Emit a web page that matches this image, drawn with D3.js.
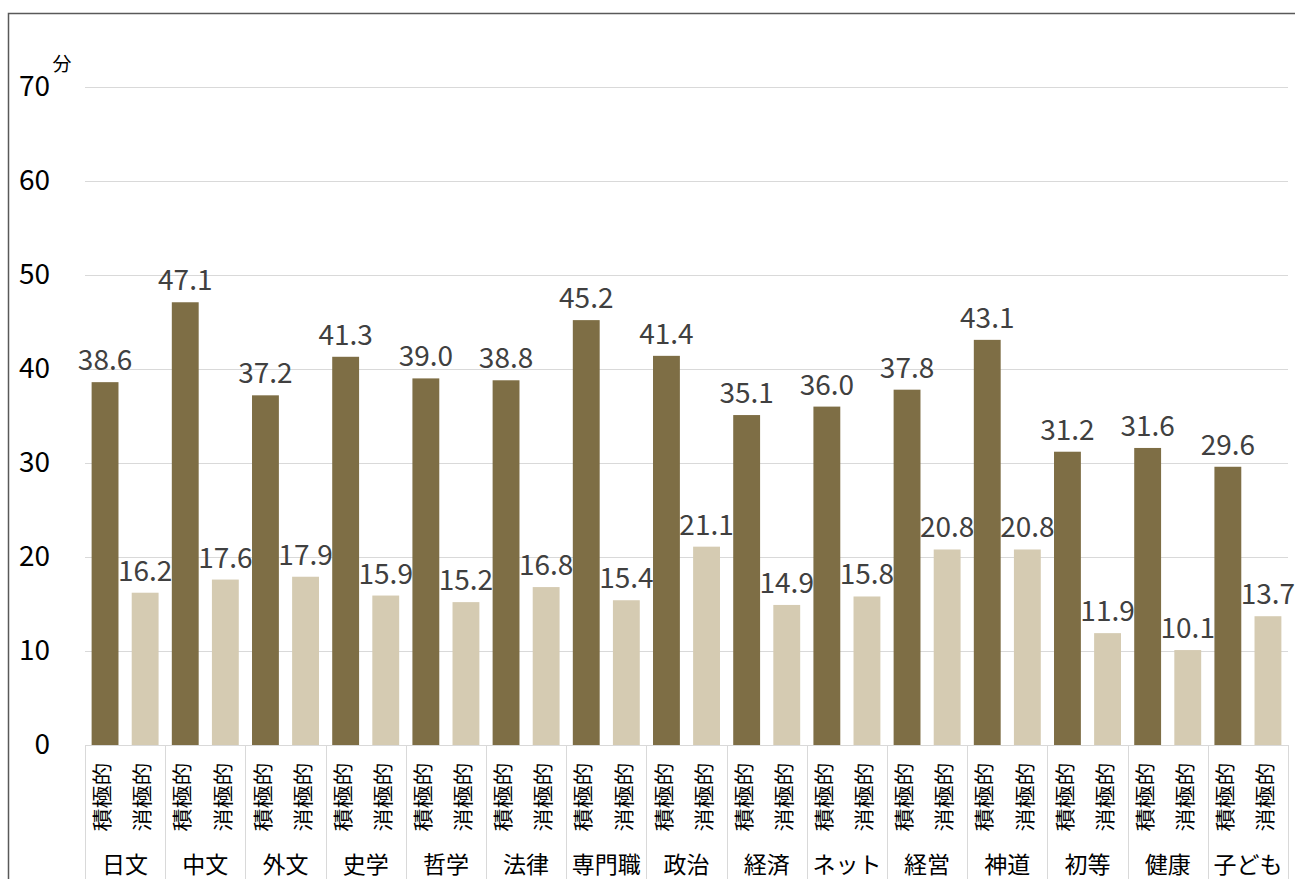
<!DOCTYPE html>
<html>
<head>
<meta charset="utf-8">
<script src="https://cdn.jsdelivr.net/npm/d3@7"></script>
<style>
  html, body { margin: 0; padding: 0; background: #fff; }
  svg { display: block; }
  text { font-family: "Noto Sans CJK JP", "Noto Sans", sans-serif; }
</style>
</head>
<body>
<script>
// Fields of study (outer category level)
const groups = ["日文", "中文", "外文", "史学", "哲学", "法律", "専門職", "政治", "経済", "ネット", "経営", "神道", "初等", "健康", "子ども"];
// Attitude (inner category level)
const attitudes = ["積極的", "消極的"];
// Minutes per attitude, one value per field
const activeValues = [38.6, 47.1, 37.2, 41.3, 39.0, 38.8, 45.2, 41.4, 35.1, 36.0, 37.8, 43.1, 31.2, 31.6, 29.6];
const passiveValues = [16.2, 17.6, 17.9, 15.9, 15.2, 16.8, 15.4, 21.1, 14.9, 15.8, 20.8, 20.8, 11.9, 10.1, 13.7];
// Value axis ticks and unit
const yTicks = [0, 10, 20, 30, 40, 50, 60, 70];
const unitLabel = "分";

const W = 1295, H = 879;
const plot = { left: 85, right: 1288, top: 87, bottom: 745 };
const colors = { "積極的": "#7e6e45", "消極的": "#d5cbb2" };

const rows = groups.map((g, i) => ({
  group: g,
  items: [
    { attitude: attitudes[0], value: activeValues[i] },
    { attitude: attitudes[1], value: passiveValues[i] }
  ]
}));

const svg = d3.select("body").append("svg").attr("width", W).attr("height", H);

// Chart frame
svg.append("rect")
  .attr("x", 8.5).attr("y", 13.5)
  .attr("width", W + 20).attr("height", H + 20)
  .attr("fill", "none").attr("stroke", "#595959").attr("stroke-width", 1.5);

const x0 = d3.scaleBand().domain(groups).range([plot.left, plot.right]).padding(0);
const x1 = d3.scaleBand().domain(attitudes).range([0, x0.bandwidth()])
  .paddingInner(0.33).paddingOuter(0.165);
const y = d3.scaleLinear().domain([0, 70]).range([plot.bottom, plot.top]);

// Horizontal gridlines
svg.append("g").selectAll("line").data(yTicks.filter(t => t > 0)).join("line")
  .attr("x1", plot.left).attr("x2", plot.right)
  .attr("y1", d => Math.round(y(d)) + 0.5).attr("y2", d => Math.round(y(d)) + 0.5)
  .attr("stroke", "#d9d9d9").attr("stroke-width", 1);

// Y axis tick labels
const yAxis = d3.axisLeft(y).tickValues(yTicks).tickSize(0).tickPadding(0).tickFormat(d3.format("d"));
const yg = svg.append("g").attr("transform", `translate(${plot.left - 35},0)`).call(yAxis);
yg.select(".domain").remove();
yg.selectAll("text")
  .attr("font-size", 28).attr("fill", "#000")
  .attr("font-family", "'Noto Sans CJK JP', sans-serif");

// Unit label
svg.append("text")
  .attr("x", 62).attr("y", 71)
  .attr("text-anchor", "middle")
  .attr("font-size", 19).attr("fill", "#000")
  .text(unitLabel);

// Bars
const gBars = svg.append("g").selectAll("g").data(rows).join("g")
  .attr("transform", d => `translate(${x0(d.group)},0)`);

gBars.selectAll("rect").data(d => d.items).join("rect")
  .attr("x", d => x1(d.attitude))
  .attr("width", x1.bandwidth())
  .attr("y", d => y(d.value))
  .attr("height", d => y(0) - y(d.value))
  .attr("fill", d => colors[d.attitude]);

// Data labels
gBars.selectAll("text.val").data(d => d.items).join("text")
  .attr("class", "val")
  .attr("x", d => x1(d.attitude) + x1.bandwidth() / 2)
  .attr("y", d => y(d.value) - 12)
  .attr("text-anchor", "middle")
  .attr("font-size", 28).attr("fill", "#404040")
  .text(d => d.value.toFixed(1));

// Category axis baseline
svg.append("line")
  .attr("x1", plot.left).attr("x2", plot.right)
  .attr("y1", plot.bottom + 0.5).attr("y2", plot.bottom + 0.5)
  .attr("stroke", "#d9d9d9");

// Group dividers
const bounds = groups.map(g => x0(g)).concat([plot.right]);
svg.append("g").selectAll("line").data(bounds).join("line")
  .attr("x1", d => Math.round(d) + 0.5).attr("x2", d => Math.round(d) + 0.5)
  .attr("y1", plot.bottom).attr("y2", H)
  .attr("stroke", "#d9d9d9");

// Inner category labels (rotated)
gBars.selectAll("text.sub").data(d => d.items).join("text")
  .attr("class", "sub")
  .attr("transform", d => `translate(${x1(d.attitude) + x1.bandwidth() / 2 - 2},797) rotate(-90)`)
  .attr("text-anchor", "middle")
  .attr("dy", "0.36em")
  .attr("font-size", 20).attr("fill", "#000")
  .attr("textLength", 69).attr("lengthAdjust", "spacingAndGlyphs")
  .text(d => d.attitude);

// Outer category labels
gBars.append("text")
  .attr("x", x0.bandwidth() / 2)
  .attr("y", 873)
  .attr("text-anchor", "middle")
  .attr("font-size", 23).attr("fill", "#000")
  .text(d => d.group);
</script>
</body>
</html>
